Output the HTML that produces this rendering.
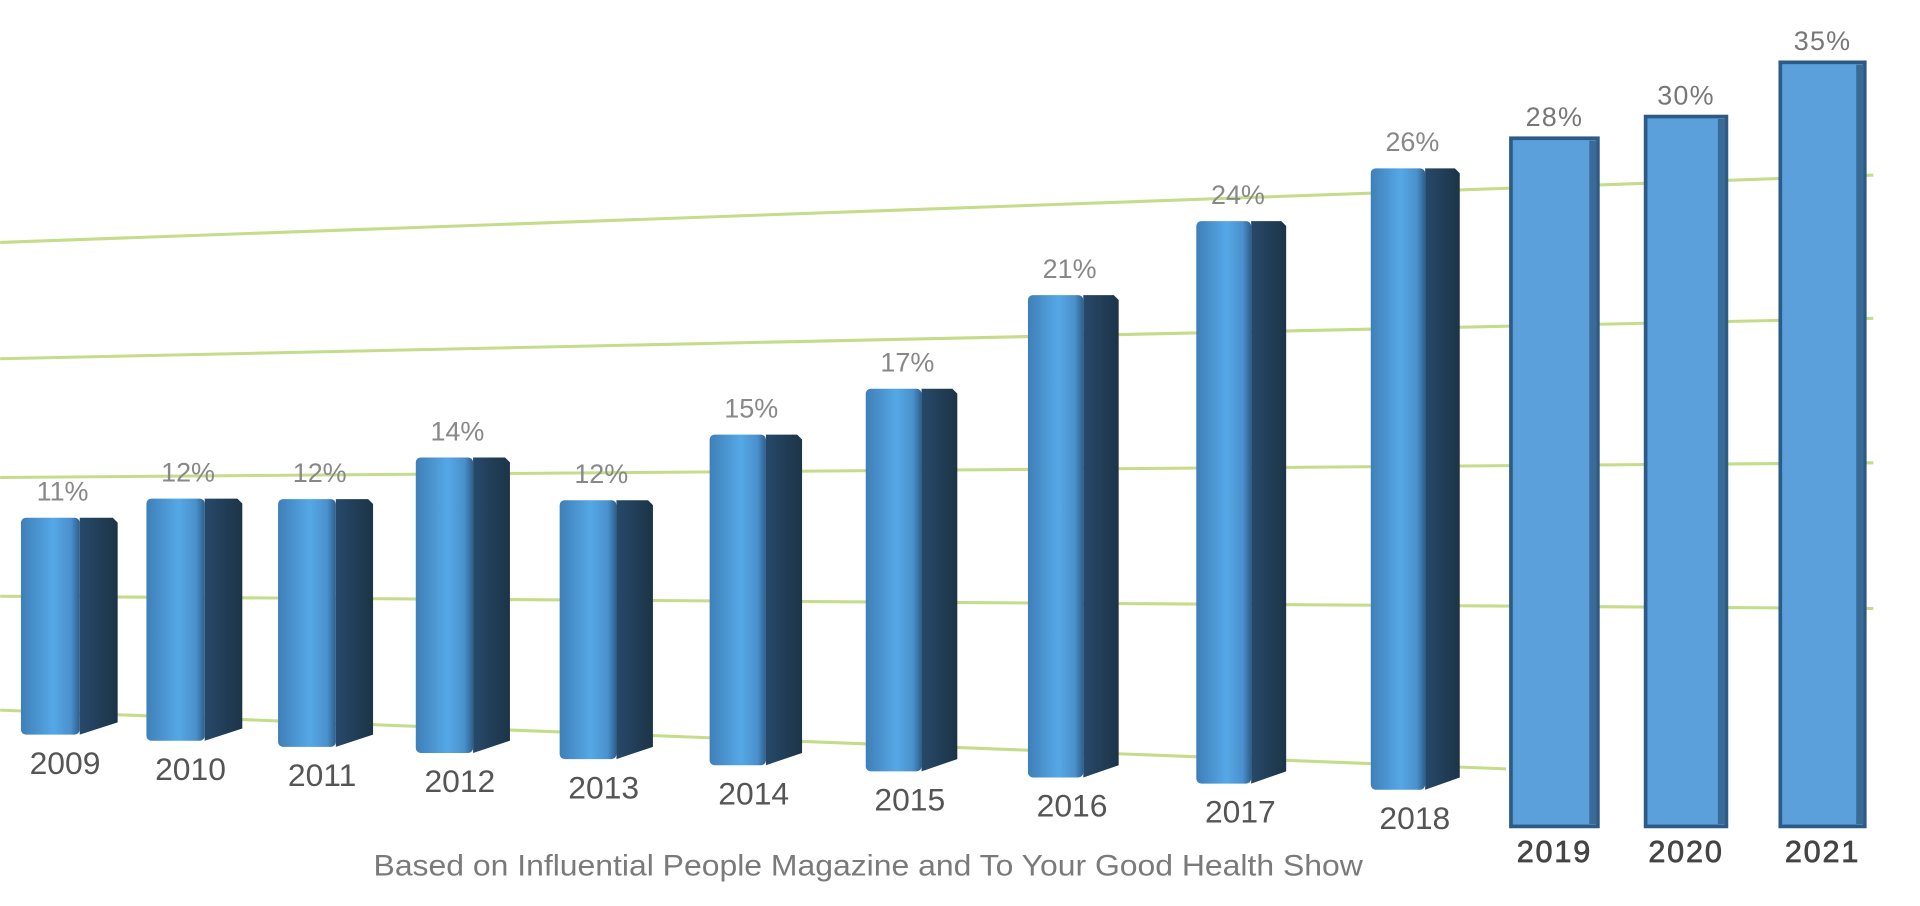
<!DOCTYPE html>
<html><head><meta charset="utf-8"><style>
html,body{margin:0;padding:0;background:#fff;}
svg{display:block;}
</style></head><body>
<svg id="chart" width="1920" height="906" viewBox="0 0 1568 740" xmlns="http://www.w3.org/2000/svg" style="font-family:'Liberation Sans',sans-serif">
<defs>
<linearGradient id="front" x1="0" x2="1" y1="0" y2="0">
<stop offset="0" stop-color="#3f7fb8"/><stop offset="0.55" stop-color="#55a8e6"/><stop offset="0.85" stop-color="#4a90cc"/><stop offset="1" stop-color="#2d5f8c"/>
</linearGradient>
<linearGradient id="side" x1="0" x2="1" y1="0" y2="0">
<stop offset="0" stop-color="#27496a"/><stop offset="1" stop-color="#1c3447"/>
</linearGradient>
</defs>
<g id="grid"></g>
<g id="bars"></g>
<text x="305" y="715" textLength="808" lengthAdjust="spacingAndGlyphs" font-size="24" fill="#7a7a7a">Based on Influential People Magazine and To Your Good Health Show</text>
</svg>
<script>
const years = ["2009","2010","2011","2012","2013","2014","2015","2016","2017","2018","2019","2020","2021"];
const values = [11,12,12,14,12,15,17,21,24,26,28,30,35];
const valueLabels = ["11%","12%","12%","14%","12%","15%","17%","21%","24%","26%","28%","30%","35%"];

const NS="http://www.w3.org/2000/svg";
function mk(tag, attrs, parent){const e=document.createElementNS(NS,tag);for(const k in attrs)e.setAttribute(k,attrs[k]);parent.appendChild(e);return e;}
const grid=document.getElementById('grid'), bars=document.getElementById('bars');
const gl=[[0,198,1530,143],[0,293,1530,260],[0,390,1530,378],[0,487,1530,497],[0,580,1230,628]];
gl.forEach(g=>{const l=mk('line',{x1:g[0],y1:g[1],x2:g[2],y2:g[3],stroke:'#c5dc8a','stroke-width':2.5},grid);

});

// axis functions
function xLeft(i){ return i<10 ? 17 + i*100 + i*i*2.5 : 1234 + (i-10)*110; }
function baseY(i){ return i<10 ? 600 + i*5 : 675; }
function barHeight(i){ return i<10 ? values[i]*(16.1+0.38*i) : 314 + values[i]*8.86; }
function yTop(i){ return baseY(i) - barHeight(i); }

years.forEach((yr,i)=>{
  const x=xLeft(i), b=baseY(i), t=yTop(i);
  if(i<10){
    const fw=48 - i*0.4, sw=31 - i*0.3;
    const f=mk('rect',{x:x,y:t,width:fw,height:b-t,rx:4,fill:'url(#front)'},bars);
    
    
    const s=mk('polygon',{points:`${x+fw},${t} ${x+fw+sw-4},${t} ${x+fw+sw},${t+4} ${x+fw+sw},${b-10} ${x+fw},${b}`,fill:'url(#side)'},bars);
    
    
    const yl=mk('text',{x:x+36,y:b+32,'text-anchor':'middle','font-size':26,fill:'#555'},bars);
    yl.textContent=yr;
    
    
    const vl=mk('text',{x:x+34,y:t-14,'text-anchor':'middle','font-size':22,fill:'#888'},bars);
    vl.textContent=valueLabels[i];
    
    
  } else {
    const w=i===10?71:(i===11?66:69);
    const r=mk('rect',{x:x,y:t,width:w,height:b-t,fill:'#5b9fdb',stroke:'#2e5b86','stroke-width':3},bars);
    
    
    const sh=mk('rect',{x:x+w-7,y:t+2,width:6,height:b-t-4,fill:'#3a6a96'},bars);
    
    
    const yl=mk('text',{x:x+w/2,y:b+29,'text-anchor':'middle','font-size':25,fill:'#444','letter-spacing':1.5,stroke:'#444','stroke-width':0.6},bars);
    yl.textContent=yr;
    
    
    const vl=mk('text',{x:x+w/2,y:t-10,'text-anchor':'middle','font-size':22,fill:'#777','letter-spacing':1},bars);
    vl.textContent=valueLabels[i];
    
    
  }
});
</script>
</body></html>
